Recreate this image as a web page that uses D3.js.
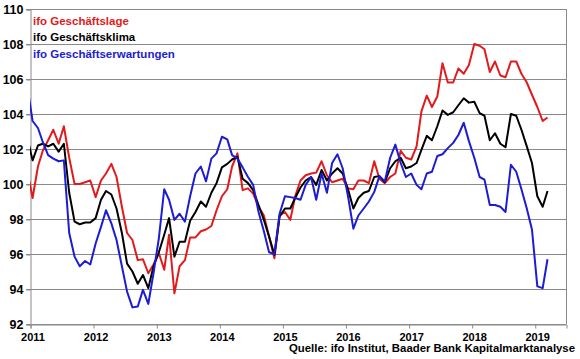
<!DOCTYPE html>
<html><head><meta charset="utf-8">
<script src="https://cdn.jsdelivr.net/npm/d3@7"></script>
<style>
html,body{margin:0;padding:0;background:#fff;}
svg{display:block;font-family:"Liberation Sans",Arial,sans-serif;font-weight:bold;}
</style></head>
<body><svg id="chart" width="580" height="359"></svg>
<script>
// monthly data, first entry = Dec 2010 (clipped at the axis), last = Mar 2019
const startYear = 2010, startMonth = 11;
const seriesNames = ["ifo Geschäftslage", "ifo Geschäftsklima", "ifo Geschäftserwartungen"];
const lage = [100.8,
 99.2,101.0,101.9,102.5,103.1,102.3,103.3,101.5,100.0,100.0,100.1,100.2,
 99.25,100.2,100.6,101.15,100.4,98.7,97.2,96.8,95.65,95.7,94.9,95.4,
 96.05,95.1,97.1,93.75,95.3,95.65,96.95,96.95,97.3,97.4,97.6,98.5,
 99.3,99.7,101.0,101.75,99.65,99.75,99.45,98.7,98.2,97.0,95.75,98.2,
 98.4,97.95,99.3,100.2,100.5,100.6,100.65,101.3,100.5,100.1,100.2,100.3,
 99.75,99.7,100.2,100.2,100.05,101.3,100.3,100.05,100.4,100.6,101.9,101.5,
 101.4,102.15,104.15,105.05,104.4,105.0,106.9,105.8,105.8,106.6,106.3,106.8,
 108.0,107.9,107.7,106.4,107.0,106.2,106.1,107.0,107.0,106.3,105.8,105.1,
 104.4,103.6,103.8];
const klima = [102.65,
 101.35,102.2,102.3,102.15,102.3,101.85,102.3,99.5,97.85,97.7,97.8,97.8,
 98.05,99.1,99.6,99.4,98.6,97.2,95.45,95.0,94.3,94.8,94.05,95.3,
 96.1,97.1,98.05,95.85,96.7,96.7,97.9,98.4,99.0,98.7,99.5,100.05,
 100.95,101.15,101.4,101.55,100.3,100.05,99.65,98.8,97.95,97.0,95.95,98.15,
 98.6,98.6,99.2,99.8,100.2,100.4,99.95,100.8,100.2,100.6,100.9,100.6,
 99.7,98.6,99.2,99.5,99.6,100.4,100.45,100.1,100.9,101.3,101.5,100.9,
 101.0,101.2,101.95,102.75,102.5,103.3,104.2,103.95,104.1,104.5,104.9,104.65,
 104.7,104.05,103.9,102.5,102.9,102.3,102.1,104.0,103.9,103.1,102.15,101.2,
 99.3,98.7,99.6];
const erwartungen = [105.6,
 103.6,103.2,102.4,101.65,101.45,101.3,101.35,97.2,95.85,95.3,95.6,95.4,
 96.6,97.55,98.5,97.75,96.8,95.3,93.85,92.95,93.0,93.95,93.15,94.9,
 96.9,99.7,99.1,97.95,98.3,97.85,99.3,100.6,101.0,100.15,101.45,101.75,
 102.7,102.55,101.65,101.45,100.95,100.4,99.95,98.4,97.3,96.1,96.0,98.3,
 99.3,99.25,99.2,99.1,99.95,100.4,99.1,100.6,99.5,101.2,101.7,100.9,
 99.3,97.45,98.2,98.6,99.0,99.55,100.45,100.15,101.5,102.25,101.2,100.4,
 100.6,99.95,99.7,100.6,100.7,101.6,101.7,102.05,102.35,102.8,103.5,102.45,
 101.5,100.4,100.25,98.8,98.8,98.7,98.4,101.1,100.7,99.7,98.6,97.4,
 94.15,94.05,95.7];
const yTicks = [92,94,96,98,100,102,104,106,108,110];
const yearTicks = [2011,2012,2013,2014,2015,2016,2017,2018,2019];
const colors = ["#e31a1c", "#000000", "#1c1cd4"];
const sourceText = "Quelle: ifo Institut, Baader Bank Kapitalmarktanalyse";

const svg = d3.select("#chart");
const L = 30, R = 566, T = 9, B = 324;
const x = d3.scaleTime().domain([new Date(2011,0,1), new Date(2019,6,1)]).range([L, R]);
const y = d3.scaleLinear().domain([92,110]).range([B, T]);
const gridCol = "#8a8a8a";

svg.append("rect").attr("width",580).attr("height",359).attr("fill","#fff");

// gridlines
svg.append("g").selectAll("line").data(yTicks).join("line")
  .attr("x1", L-4).attr("x2", R).attr("y1", d=>y(d)+0.5).attr("y2", d=>y(d)+0.5)
  .attr("stroke", gridCol).attr("stroke-width", 1);
// right border
svg.append("line").attr("x1",R+0.5).attr("x2",R+0.5).attr("y1",T).attr("y2",B)
  .attr("stroke",gridCol);

// y axis
const ya = svg.append("g").attr("transform",`translate(${L+0.5},0.5)`)
  .call(d3.axisLeft(y).tickValues(yTicks).tickSize(4).tickPadding(3).tickFormat(d3.format("d")));
ya.select(".domain").attr("stroke", gridCol);
ya.selectAll(".tick line").attr("stroke", gridCol);
ya.selectAll("text").attr("font-size","12.5px").attr("font-weight","bold")
  .attr("font-family","Liberation Sans, Arial, sans-serif").attr("fill","#000");

// x axis
const xa = svg.append("g").attr("transform",`translate(0.5,${B+0.5})`)
  .call(d3.axisBottom(x).tickValues(yearTicks.map(yr=>new Date(yr,0,1))).tickSize(4).tickPadding(5)
    .tickFormat(d3.timeFormat("%Y")));
xa.select(".domain").attr("stroke", gridCol);
xa.selectAll(".tick line").attr("stroke", gridCol);
xa.selectAll("text").attr("font-size","11px").attr("font-weight","bold").attr("dx","2")
  .attr("font-family","Liberation Sans, Arial, sans-serif").attr("fill","#000");

// lines
svg.append("clipPath").attr("id","clip").append("rect")
  .attr("x",L).attr("y",T-2).attr("width",R-L).attr("height",B-T+4);
const dateOf = i => new Date(startYear, startMonth + i, 16);
const line = d3.line().x((d,i)=>x(dateOf(i))).y(d=>y(d));
const g = svg.append("g").attr("clip-path","url(#clip)");
[lage, klima, erwartungen].forEach((s,k)=>{
  g.append("path").datum(s).attr("d", line).attr("fill","none")
    .attr("stroke", colors[k]).attr("stroke-width", 2).attr("stroke-linejoin","round");
});

// legend
svg.append("g").selectAll("text").data(seriesNames).join("text")
  .attr("x", 33).attr("y", (d,i)=>24.5 + i*16.5)
  .attr("fill", (d,i)=>colors[i]).attr("font-size","11.5px").text(d=>d);

// source
svg.append("text").attr("x", 575).attr("y", 352).attr("text-anchor","end")
  .attr("font-size","11px").attr("fill","#000")
  .attr("textLength", 286).attr("lengthAdjust","spacingAndGlyphs").text(sourceText);
</script></body></html>
